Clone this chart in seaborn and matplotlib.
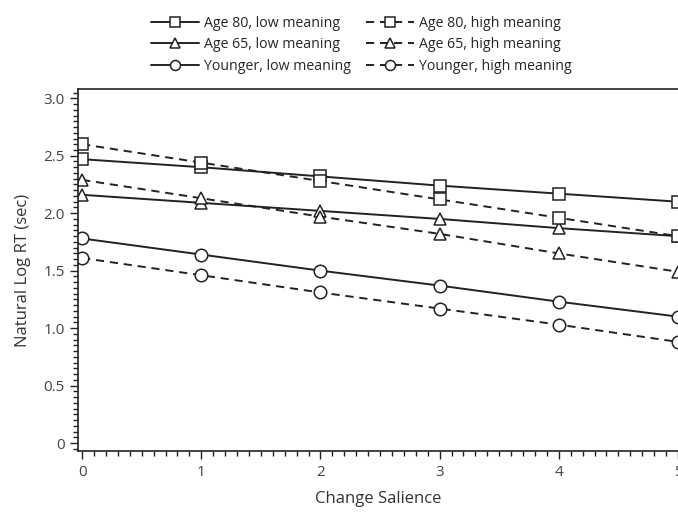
import matplotlib
matplotlib.use("Agg")
import matplotlib.pyplot as plt
import seaborn as sns
from matplotlib.ticker import MultipleLocator, FuncFormatter

salience = [0, 1, 2, 3, 4, 5]

age80_low = [2.47, 2.40, 2.32, 2.24, 2.17, 2.10]
age80_high = [2.60, 2.44, 2.28, 2.12, 1.96, 1.80]
age65_low = [2.16, 2.09, 2.02, 1.95, 1.87, 1.80]
age65_high = [2.29, 2.13, 1.97, 1.82, 1.65, 1.49]
younger_low = [1.78, 1.64, 1.50, 1.37, 1.23, 1.10]
younger_high = [1.61, 1.46, 1.31, 1.17, 1.03, 0.88]

labels = ["Age 80, low meaning", "Age 65, low meaning", "Younger, low meaning",
          "Age 80, high meaning", "Age 65, high meaning", "Younger, high meaning"]
series = [age80_low, age65_low, younger_low, age80_high, age65_high, younger_high]
markers = ["s", "^", "o", "s", "^", "o"]
dashed = [False, False, False, True, True, True]

sns.set_style("ticks")
plt.rcParams["font.family"] = ["Open Sans", "DejaVu Sans"]

fig = plt.figure(figsize=(6.78, 5.12), dpi=100)
ax = fig.add_axes([0.115, 0.119, 0.885, 0.707])

ink = "#222222"
for vals, lab, mk, dsh in zip(series, labels, markers, dashed):
    sns.lineplot(x=salience, y=vals, ax=ax, label=lab, color=ink,
                 linewidth=1.4, marker=mk, markersize=9,
                 markerfacecolor="white", markeredgecolor=ink,
                 markeredgewidth=1.1,
                 dashes=(4.2, 3.0) if dsh else "", legend=False)

ax.set_xlim(-0.035, 5.0)
ax.set_ylim(-0.07, 3.08)
ax.xaxis.set_major_locator(MultipleLocator(1))
ax.xaxis.set_minor_locator(MultipleLocator(0.1))
ax.yaxis.set_major_locator(MultipleLocator(0.5))
ax.yaxis.set_minor_locator(MultipleLocator(0.05))
ax.yaxis.set_major_formatter(FuncFormatter(lambda v, p: "0" if abs(v) < 1e-9 else f"{v:.1f}"))
ax.tick_params(which="major", length=6, width=1.0, color=ink, labelsize=11, labelcolor="#444444")
ax.tick_params(which="minor", length=3.5, width=1.0, color=ink)
ax.tick_params(axis="x", pad=4)
for s in ["left", "bottom", "top"]:
    ax.spines[s].set_color(ink)
    ax.spines[s].set_linewidth(1.2)
ax.spines["right"].set_visible(False)

ax.set_xlabel("Change Salience", fontsize=12, color="#333333", labelpad=8)
ax.set_ylabel("Natural Log RT (sec)", fontsize=12, color="#333333", labelpad=9)

handles = ax.get_lines()
fig.legend(handles, labels, ncol=2, frameon=False, loc="upper center",
           bbox_to_anchor=(0.533, 0.994), fontsize=10.2, handlelength=3.4,
           markerscale=0.8, columnspacing=1.1, labelspacing=0.45, handletextpad=0.35)

fig.savefig("out.png", dpi=100)
plt.close(fig)
